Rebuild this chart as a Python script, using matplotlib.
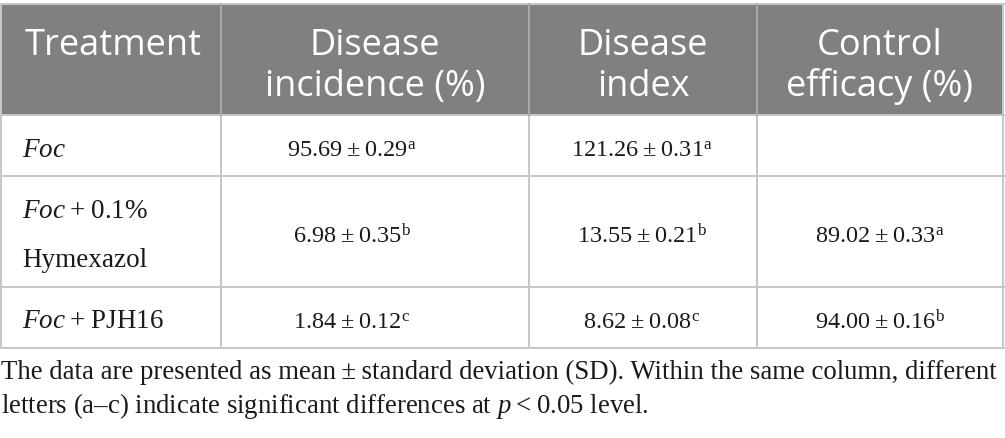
import matplotlib
matplotlib.use("Agg")
import matplotlib.pyplot as plt
from matplotlib.patches import Rectangle

plt.rcParams['mathtext.fontset'] = 'custom'
plt.rcParams['mathtext.rm'] = 'Liberation Serif'
plt.rcParams['mathtext.it'] = 'Liberation Serif:italic'
plt.rcParams['mathtext.bf'] = 'Liberation Serif:bold'

# ---- data ----
headers_line1 = ["Treatment", "Disease", "Disease", "Control"]
headers_line2 = ["", "incidence (%)", "index", "efficacy (%)"]
treatment_line1 = ["$\\mathit{Foc}$", "$\\mathit{Foc}$\u2009+\u20090.1%", "$\\mathit{Foc}$\u2009+\u2009PJH16"]
treatment_line2 = ["", "Hymexazol", ""]
incidence_mean = ["95.69", "6.98", "1.84"]
incidence_sd = ["0.29", "0.35", "0.12"]
incidence_letter = ["a", "b", "c"]
index_mean = ["121.26", "13.55", "8.62"]
index_sd = ["0.31", "0.21", "0.08"]
index_letter = ["a", "b", "c"]
efficacy_mean = [None, "89.02", "94.00"]
efficacy_sd = [None, "0.33", "0.16"]
efficacy_letter = [None, "a", "b"]
footnote = ["The data are presented as mean\u2009\u00b1\u2009standard deviation (SD). Within the same column, different",
            "letters (a\u2013c) indicate significant differences at $p$\u2009<\u20090.05 level."]

# ---- layout ----
W, H = 1005, 438
fig = plt.figure(figsize=(W / 100, H / 100), dpi=100)
ax = fig.add_axes([0, 0, 1, 1])
ax.set_xlim(0, W)
ax.set_ylim(H, 0)
ax.axis('off')

col_x = [1, 221, 529, 757, 1003]
row_y = [4, 115, 176, 287, 348]
hdr_col = '#808080'
line_col = '#c6c6c6'
lw = 1.4

ax.add_patch(Rectangle((col_x[0], row_y[0]), col_x[-1] - col_x[0], row_y[1] - row_y[0],
                       facecolor=hdr_col, edgecolor='none', zorder=1))
for y in row_y:
    ax.plot([0, W], [y, y], color=line_col, lw=lw, zorder=2, solid_capstyle='butt')
for x in col_x:
    ax.plot([x, x], [row_y[0], row_y[-1]], color=line_col, lw=lw, zorder=2, solid_capstyle='butt')
for x in col_x[1:4]:
    ax.plot([x, x], [row_y[0], row_y[1]], color='#a8a8a8', lw=lw, zorder=3)

# header text
hfont = dict(family='Open Sans', fontsize=26, color='white', zorder=4)
centers = [(col_x[i] + col_x[i + 1]) / 2 for i in range(4)]
ax.text(25, 55, headers_line1[0], ha='left', va='baseline', **hfont)
for i in range(1, 4):
    ax.text(centers[i], 55, headers_line1[i], ha='center', va='baseline', **hfont)
    ax.text(centers[i], 96, headers_line2[i], ha='center', va='baseline', **hfont)

# body text
bfont = dict(family=['Liberation Serif', 'DejaVu Serif'], fontsize=19.5, color='#1a1a1a', zorder=4)
vfont = dict(family=['Liberation Serif', 'DejaVu Serif'], fontsize=17.5, color='#1a1a1a', zorder=4)
tr_base1 = [157, 218, 328]
tr_base2 = [None, 267, None]
val_base = [157, 243, 329]
for r in range(3):
    ax.text(22, tr_base1[r], treatment_line1[r], ha='left', va='baseline', **bfont)
    if treatment_line2[r]:
        ax.text(22, tr_base2[r], treatment_line2[r], ha='left', va='baseline', **bfont)

def val(m, s, l):
    return m + "\u2009\u00b1\u2009" + s + "$^{\\mathrm{" + l + "}}$"

val_cx = [352, 642, 880]
for r in range(3):
    ax.text(val_cx[0], val_base[r], val(incidence_mean[r], incidence_sd[r], incidence_letter[r]),
            ha='center', va='baseline', **vfont)
    ax.text(val_cx[1], val_base[r], val(index_mean[r], index_sd[r], index_letter[r]),
            ha='center', va='baseline', **vfont)
    if efficacy_mean[r] is not None:
        ax.text(val_cx[2], val_base[r], val(efficacy_mean[r], efficacy_sd[r], efficacy_letter[r]),
                ha='center', va='baseline', **vfont)

ffont = dict(family=['Liberation Serif', 'DejaVu Serif'], fontsize=19.3, color='#1a1a1a')
ax.text(1, 379, footnote[0], ha='left', va='baseline', **ffont)
ax.text(1, 413, footnote[1], ha='left', va='baseline', **ffont)

fig.savefig('out.png', dpi=100)
